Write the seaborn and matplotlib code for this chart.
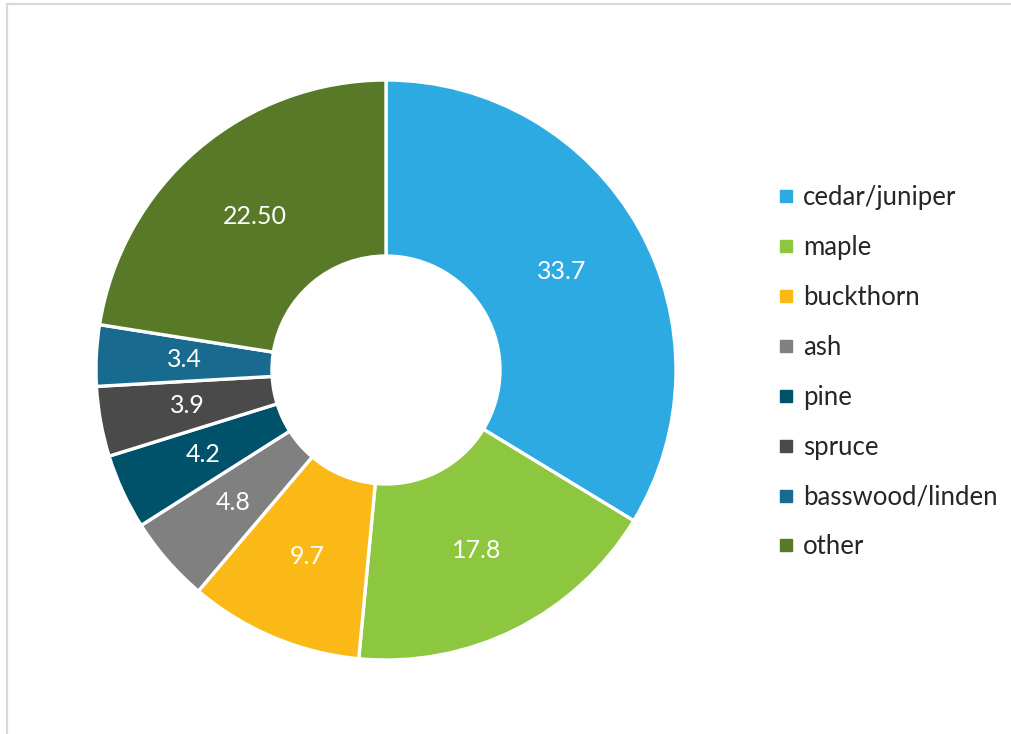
import matplotlib
matplotlib.use("Agg")
import matplotlib.pyplot as plt
from matplotlib.lines import Line2D
import numpy as np
import seaborn as sns

# Share of trees by species (percent)
species = ["cedar/juniper", "maple", "buckthorn", "ash", "pine", "spruce",
           "basswood/linden", "other"]
shares = [33.7, 17.8, 9.7, 4.8, 4.2, 3.9, 3.4, 22.50]
share_labels = ["33.7", "17.8", "9.7", "4.8", "4.2", "3.9", "3.4", "22.50"]
colors = ["#2EAAE2", "#8DC63F", "#FBB918", "#808080", "#00526B", "#4A4A4A",
          "#186A8E", "#587A28"]

sns.set_theme(style="white")
plt.rcParams["font.family"] = ["Lato", "DejaVu Sans"]

W, H = 1012, 734
fig = plt.figure(figsize=(W / 100, H / 100), dpi=100)

cx, cy, R = 386, 370, 290
ax = fig.add_axes([(cx - R) / W, (H - cy - R) / H, 2 * R / W, 2 * R / H])

inner = 114 / R
wedges, _ = ax.pie(shares, colors=colors, startangle=90, counterclock=False,
                   radius=1, wedgeprops=dict(width=1 - inner, edgecolor="white",
                                             linewidth=2.4))
ax.set_xlim(-1, 1)
ax.set_ylim(-1, 1)
ax.set_aspect("equal")
ax.axis("off")

# Value labels at the middle of the ring
total = sum(shares)
start = 90.0
r_mid = (1 + inner) / 2
for val, txt in zip(shares, share_labels):
    sweep = val / total * 360
    mid = np.deg2rad(start - sweep / 2)
    ax.text(r_mid * np.cos(mid), r_mid * np.sin(mid), txt, ha="center",
            va="center", color="white", fontsize=18)
    start -= sweep

handles = [Line2D([0], [0], marker="s", linestyle="", markersize=8,
                  markerfacecolor=c, markeredgecolor=c) for c in colors]
fig.legend(handles, species, loc="upper left",
           bbox_to_anchor=(780 / W, 1 - 185 / H), frameon=False,
           fontsize=18.5, labelspacing=0.97, handlelength=0.5,
           handletextpad=0.4, borderaxespad=0, borderpad=0)

# Thin frame lines along the top and left edges
fig.add_artist(Line2D([7 / W, 1], [1 - 4 / H, 1 - 4 / H], color="#D9D9D9",
                      linewidth=1.6, transform=fig.transFigure))
fig.add_artist(Line2D([7 / W, 7 / W], [0, 1 - 4 / H], color="#D9D9D9",
                      linewidth=1.6, transform=fig.transFigure))

fig.savefig("out.png", dpi=100, facecolor="white")
